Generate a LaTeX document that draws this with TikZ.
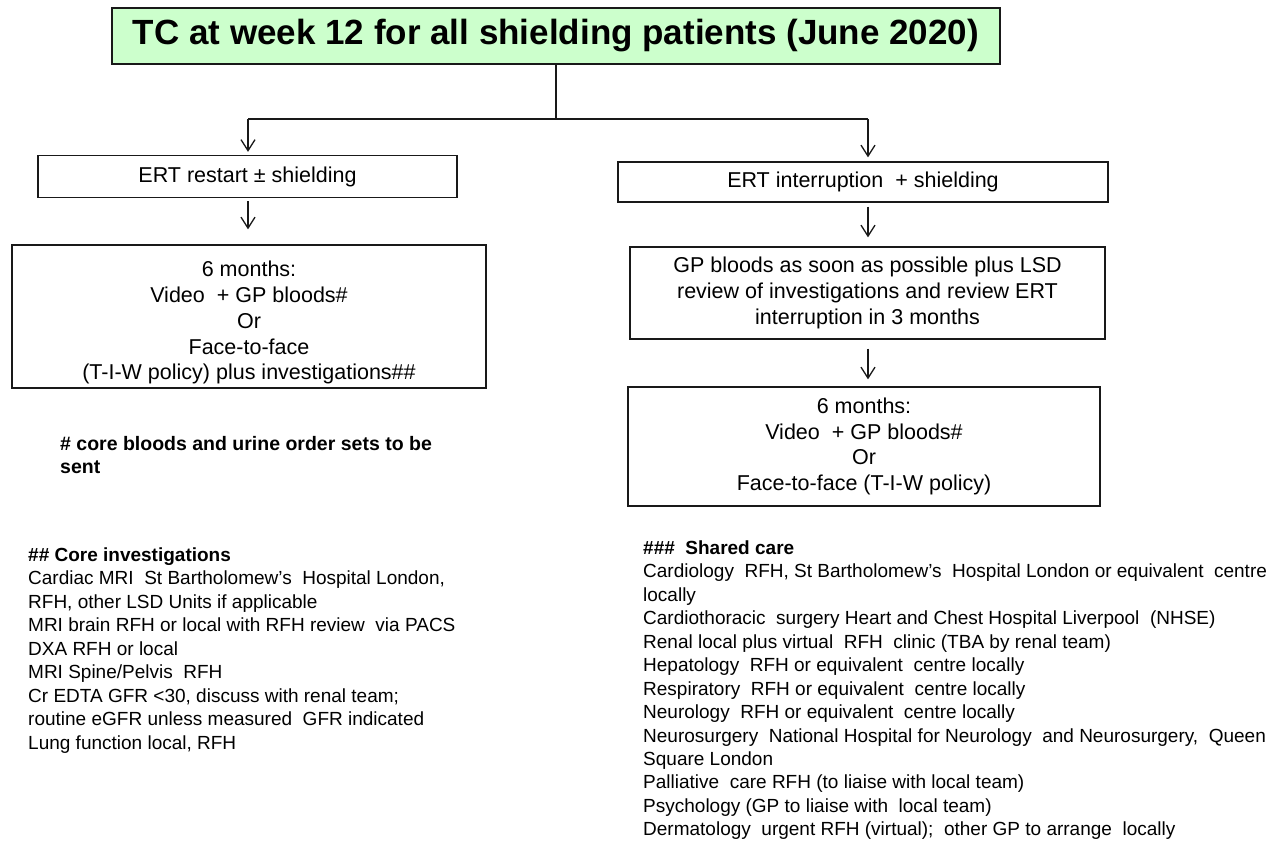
\documentclass[tikz,border=0pt]{standalone}
\usepackage{fontspec}
\setmainfont{Liberation Sans}
\usetikzlibrary{arrows.meta}
\definecolor{titlegreen}{RGB}{204,255,204}
\definecolor{ink}{RGB}{25,25,25}
\begin{document}
\begin{tikzpicture}[x=1pt,y=-1pt,
  titlebox/.style={draw=ink, line width=1.3pt, fill=titlegreen, inner sep=0pt,
    minimum width=888pt, minimum height=56pt, font=\bfseries\fontsize{35}{40}\selectfont},
  box/.style={draw=ink, line width=1.3pt, inner sep=0pt, align=center,
    font=\fontsize{21.5}{25.8}\selectfont},
  conn/.style={draw=ink, line width=1.3pt},
  arr/.style={conn, -{Straight Barb[length=11pt,width=14pt,line width=1.3pt]}},
  list/.style={anchor=north west, align=left, inner sep=0pt,
    font=\fontsize{19}{23.45}\selectfont}]
\useasboundingbox (0,0) rectangle (1274,841);
\fill[white] (0,0) rectangle (1274,841);

\node[titlebox] (title) at (556,36) {TC at week 12 for all shielding patients (June 2020)};

\node[box, minimum width=419pt, minimum height=42pt] (l1) at (247.5,176.5) {ERT restart ± shielding};
\node[box, minimum width=474pt, minimum height=143pt] (l2) at (249,316.5)
  {\rule{0pt}{28pt}6 months:\\Video~ + GP bloods\#\\Or\\Face-to-face\\(T-I-W policy) plus investigations\#\#};

\node[box, minimum width=490pt, minimum height=40pt] (r1) at (863,182) {ERT interruption~ + shielding};
\node[box, minimum width=475pt, minimum height=92pt] (r2) at (867.5,293)
  {GP bloods as soon as possible plus LSD\\review of investigations and review ERT\\interruption in 3 months};
\node[box, minimum width=472pt, minimum height=119pt] (r3) at (864,446.5)
  {6 months:\\Video~ + GP bloods\#\\Or\\Face-to-face (T-I-W policy)};

\coordinate (j) at (556,119);
\coordinate (jl) at (248,119);
\coordinate (jr) at (868,119);

\draw[conn] (title.south) -- (j);
\draw[conn] (jl) -- (jr);
\draw[arr, shorten >=3pt] (jl) -- (jl |- l1.north);
\draw[arr, shorten >=4pt] (jr) -- (jr |- r1.north);
\draw[arr, shorten <=3pt, shorten >=15pt] (l1.south -| jl) -- (jl |- l2.north);
\draw[arr, shorten <=4pt, shorten >=9pt] (r1.south -| jr) -- (jr |- r2.north);
\draw[arr, shorten <=9pt, shorten >=7pt] (r2.south -| jr) -- (jr |- r3.north);

\node[list, font=\bfseries\fontsize{19.5}{23}\selectfont] (fn) at (60,436)
  {\# core bloods and urine order sets to be\\sent};

\node[list] (core) at (28,547.5)
  {\textbf{\#\# Core investigations}\\
   Cardiac MRI~ St Bartholomew's~ Hospital London,\\
   RFH, other LSD Units if applicable\\
   MRI brain RFH or local with RFH review~ via PACS\\
   DXA RFH or local\\
   MRI Spine/Pelvis~ RFH\\
   Cr EDTA GFR <30, discuss with renal team;\\
   routine eGFR unless measured~ GFR indicated\\
   Lung function local, RFH};

\node[list] (shared) at (643,540.5)
  {\textbf{\#\#\#~ Shared care}\\
   Cardiology~ RFH, St Bartholomew's~ Hospital London or equivalent~ centre\\
   locally\\
   Cardiothoracic~ surgery Heart and Chest Hospital Liverpool~ (NHSE)\\
   Renal local plus virtual~ RFH~ clinic (TBA by renal team)\\
   Hepatology~ RFH or equivalent~ centre locally\\
   Respiratory~ RFH or equivalent~ centre locally\\
   Neurology~ RFH or equivalent~ centre locally\\
   Neurosurgery~ National Hospital for Neurology~ and Neurosurgery,~ Queen\\
   Square London\\
   Palliative~ care RFH (to liaise with local team)\\
   Psychology (GP to liaise with~ local team)\\
   Dermatology~ urgent RFH (virtual);~ other GP to arrange~ locally};
\end{tikzpicture}
\end{document}
